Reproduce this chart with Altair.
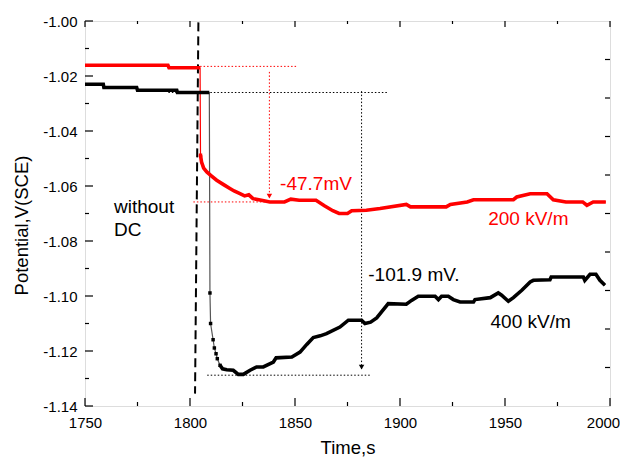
import altair as alt
import pandas as pd

FONT = "Liberation Sans, Arial, Helvetica, sans-serif"

# ---------------- data ----------------
# 200 kV/m (red)
red_before_t = [1750, 1789.5, 1790.0, 1804.8]
red_before_v = [-1.0161, -1.0161, -1.0170, -1.0170]
red_drop_t = [1804.8, 1805.0]
red_drop_v = [-1.0170, -1.0488]
red_after_t = [1805.0, 1805.5, 1806.5, 1808, 1810, 1812.7, 1816, 1819, 1821, 1823.8,
               1826, 1828, 1830, 1834, 1838, 1845, 1848, 1852, 1860, 1864, 1868,
               1871, 1875, 1877, 1884, 1890.5, 1903, 1905, 1922, 1924, 1932, 1935,
               1954, 1955.6, 1962, 1970, 1973, 1979, 1987, 1989, 1992, 1998]
red_after_v = [-1.0488, -1.0513, -1.0535, -1.0549, -1.0562, -1.0579, -1.0595, -1.0609,
               -1.0618, -1.0628, -1.0636, -1.0632, -1.0646, -1.0652, -1.0658, -1.0658,
               -1.0648, -1.0652, -1.0652, -1.0672, -1.0690, -1.0700, -1.0700, -1.0690,
               -1.0688, -1.0682, -1.0667, -1.0676, -1.0676, -1.0667, -1.0658, -1.0650,
               -1.0650, -1.0640, -1.0628, -1.0628, -1.0650, -1.0658, -1.0658, -1.0670,
               -1.0658, -1.0658]

# 400 kV/m (black)
black_before_t = [1750, 1758.7, 1759.0, 1774.6, 1775.0, 1793.7, 1794.0, 1809.2]
black_before_v = [-1.0230, -1.0230, -1.0242, -1.0242, -1.0252, -1.0252, -1.0260, -1.0260]
black_drop_t = [1809.2, 1809.5, 1809.8, 1811.0, 1811.6, 1812.4, 1813.0, 1814.3]
black_drop_v = [-1.0260, -1.0989, -1.1100, -1.1159, -1.1189, -1.1210, -1.1228, -1.1252]
black_after_t = [1814.3, 1815.5, 1817.5, 1820.6, 1823, 1825.4, 1828.6, 1831.7, 1834.9,
                 1839.7, 1841, 1848.5, 1852.4, 1855.6, 1858.7, 1862, 1865, 1871.4,
                 1875.4, 1881.7, 1883.3, 1886, 1888.9, 1894.4, 1903, 1905.5, 1908.7,
                 1916.7, 1918.3, 1919.8, 1923, 1925.4, 1928.6, 1935, 1935.7, 1943,
                 1946.8, 1948.4, 1951.6, 1954, 1958, 1962, 1963.5, 1971.4, 1972,
                 1987.3, 1988, 1990.5, 1993.3, 1995.2, 1997.6]
black_after_v = [-1.1252, -1.1265, -1.1268, -1.1270, -1.1285, -1.1285, -1.1270, -1.1258,
                 -1.1258, -1.1240, -1.1225, -1.1222, -1.1204, -1.1176, -1.1151, -1.1145,
                 -1.1137, -1.1113, -1.1088, -1.1088, -1.1100, -1.1095, -1.1080, -1.1028,
                 -1.1030, -1.1016, -1.1001, -1.1001, -1.1013, -1.1001, -1.1001, -1.1013,
                 -1.1022, -1.1022, -1.1013, -1.1006, -1.0989, -1.0997, -1.1019, -1.1006,
                 -1.0979, -1.0949, -1.0943, -1.0941, -1.0931, -1.0931, -1.0943, -1.0921,
                 -1.0921, -1.0943, -1.0961]

# "without DC" boundary (dashed, slightly slanted)
dc_t = [1804.0, 1802.4]
dc_v = [-1.0005, -1.1355]

# reference (dotted) segments: start/end time, start/end potential
red_ref_t = [1804.8, 1837.8, 1801.6]
red_ref_t2 = [1851.3, 1837.8, 1838.0]
red_ref_v = [-1.0165, -1.0185, -1.0658]
red_ref_v2 = [-1.0165, -1.0640, -1.0658]
black_ref_t = [1789.7, 1881.7, 1808.2]
black_ref_t2 = [1894.4, 1881.7, 1886.0]
black_ref_v = [-1.0260, -1.0255, -1.1288]
black_ref_v2 = [-1.0260, -1.1265, -1.1288]

# arrow heads
red_arrow_t, red_arrow_v = [1837.8], [-1.0637]
black_arrow_t, black_arrow_v = [1881.7], [-1.1259]

# annotations
red_text = ["-47.7mV", "200 kV/m"]
red_text_t = [1842.9, 1942.0]
red_text_v = [-1.0616, -1.0743]
black_text = ["-101.9 mV.", "400 kV/m", "without", "DC"]
black_text_t = [1884.9, 1943.1, 1763.8, 1763.8]
black_text_v = [-1.0947, -1.1115, -1.0698, -1.0783]

# axes
x_major = [1750, 1800, 1850, 1900, 1950, 2000]
x_minor = [1775, 1825, 1875, 1925, 1975]
y_major = [-1.14, -1.12, -1.10, -1.08, -1.06, -1.04, -1.02, -1.00]
y_minor = [-1.13, -1.11, -1.09, -1.07, -1.05, -1.03, -1.01]
right_ticks = [-1.014, -1.028, -1.042, -1.056, -1.070, -1.084, -1.098, -1.112, -1.126]

W, H = 525, 385
RED, BLACK, GREY = "#ff0000", "#000000", "#555555"

xs = alt.Scale(domain=[1750, 2000], nice=False, zero=False)
ys = alt.Scale(domain=[-1.14, -1.00], nice=False, zero=False)

X = alt.X("t:Q", scale=xs, axis=alt.Axis(
    values=x_major, format="d", ticks=False, domain=False, grid=False, labelFlush=False,
    labelOffset={"condition": {"test": "datum.value >= 2000", "value": -7}, "value": 0},
    labelFontSize=15, labelPadding=9, labelColor="black", labelFont=FONT,
    title="Time,s", titleFontSize=18.5, titleFontWeight="normal", titleFont=FONT,
    titleColor="black", titleY=47, titleBaseline="alphabetic"))
Y = alt.Y("v:Q", scale=ys, axis=alt.Axis(
    values=y_major, ticks=False, domain=False, grid=False, labelFlush=False,
    labelExpr="replace(format(datum.value, '.2f'), '\u2212', '-')",
    labelFontSize=15, labelPadding=8, labelColor="black", labelFont=FONT,
    title="Potential,V(SCE)", titleFontSize=18.5, titleFontWeight="normal",
    titleFont=FONT, titleColor="black", titleX=-58, titleY=204,
    titleBaseline="alphabetic", titleAngle=-90))
Xp = alt.X("t:Q", scale=xs)
Yp = alt.Y("v:Q", scale=ys)


def pts(t, v):
    return pd.DataFrame({"t": t, "v": v, "idx": list(range(len(t)))})


def series_layers(before_t, before_v, drop_t, drop_v, after_t, after_v, color, thin_color, first=False):
    all_t = before_t + drop_t[1:] + after_t[1:]
    all_v = before_v + drop_v[1:] + after_v[1:]
    thin = alt.Chart(pts(all_t, all_v)).mark_line(strokeWidth=1.2, color=thin_color).encode(
        x=X if first else Xp, y=Y if first else Yp, order="idx:Q")
    b = alt.Chart(pts(before_t, before_v)).mark_line(strokeWidth=3.6, color=color).encode(
        x=Xp, y=Yp, order="idx:Q")
    a = alt.Chart(pts(after_t, after_v)).mark_line(strokeWidth=3.6, color=color).encode(
        x=Xp, y=Yp, order="idx:Q")
    d = alt.Chart(pts(drop_t[1:], drop_v[1:])).mark_square(size=12, opacity=1, color=color).encode(
        x=Xp, y=Yp)
    return thin, [b, a, d]


red_thin, red_marks = series_layers(red_before_t, red_before_v, red_drop_t, red_drop_v,
                                    red_after_t, red_after_v, RED, RED, first=True)
blk_thin, blk_marks = series_layers(black_before_t, black_before_v, black_drop_t, black_drop_v,
                                    black_after_t, black_after_v, BLACK, GREY)


def segs(t, t2, v, v2):
    return pd.DataFrame({"t": t, "t2": t2, "v": v, "v2": v2})


red_ref = alt.Chart(segs(red_ref_t, red_ref_t2, red_ref_v, red_ref_v2)).mark_rule(
    color=RED, strokeWidth=1, strokeDash=[1.5, 2]).encode(x=Xp, x2="t2:Q", y=Yp, y2="v2:Q")
black_ref = alt.Chart(segs(black_ref_t, black_ref_t2, black_ref_v, black_ref_v2)).mark_rule(
    color=BLACK, strokeWidth=1, strokeDash=[1.5, 2]).encode(x=Xp, x2="t2:Q", y=Yp, y2="v2:Q")
dc_line = alt.Chart(segs([dc_t[0]], [dc_t[1]], [dc_v[0]], [dc_v[1]])).mark_rule(
    color=BLACK, strokeWidth=2, strokeDash=[9, 5]).encode(x=Xp, x2="t2:Q", y=Yp, y2="v2:Q")

red_arrow = alt.Chart(pd.DataFrame({"t": red_arrow_t, "v": red_arrow_v})).mark_point(
    shape="triangle-down", size=30, filled=True, color=RED, opacity=1).encode(x=Xp, y=Yp)
black_arrow = alt.Chart(pd.DataFrame({"t": black_arrow_t, "v": black_arrow_v})).mark_point(
    shape="triangle-down", size=30, filled=True, color=BLACK, opacity=1).encode(x=Xp, y=Yp)

red_lbl = alt.Chart(pd.DataFrame({"t": red_text_t, "v": red_text_v, "s": red_text})).mark_text(
    align="left", baseline="alphabetic", fontSize=19, font=FONT, color=RED).encode(
    x=Xp, y=Yp, text="s:N")
black_lbl = alt.Chart(pd.DataFrame({"t": black_text_t, "v": black_text_v, "s": black_text})).mark_text(
    align="left", baseline="alphabetic", fontSize=19, font=FONT, color=BLACK).encode(
    x=Xp, y=Yp, text="s:N")


# inward ticks
def xt(vals, y0, y1):
    return alt.Chart(pd.DataFrame({"t": vals})).mark_rule(color="black", strokeWidth=1.2).encode(
        x=Xp, y=alt.value(y0), y2=alt.value(y1))


def yt(vals, x0, x1):
    return alt.Chart(pd.DataFrame({"v": vals})).mark_rule(color="black", strokeWidth=1.2).encode(
        y=Yp, x=alt.value(x0), x2=alt.value(x1))


ticks = [xt(x_major, H, H - 8), xt(x_minor, H, H - 4),
         xt(x_major, 0, 6), xt(x_minor, 0, 3),
         yt(y_major, 0, 8), yt(y_minor, 0, 4),
         yt(right_ticks, W, W - 5)]

chart = alt.layer(
    red_thin, blk_thin, red_ref, black_ref, dc_line, *red_marks, *blk_marks,
    red_arrow, black_arrow, red_lbl, black_lbl, *ticks
).properties(
    width=W, height=H,
    padding={"left": 77, "top": 13, "right": 10, "bottom": 51},
    autosize=alt.AutoSizeParams(type="none"),
).configure_view(stroke="black", strokeWidth=2).configure(background="white")

chart.save("out.html", embed_options={"renderer": "svg", "actions": False})
